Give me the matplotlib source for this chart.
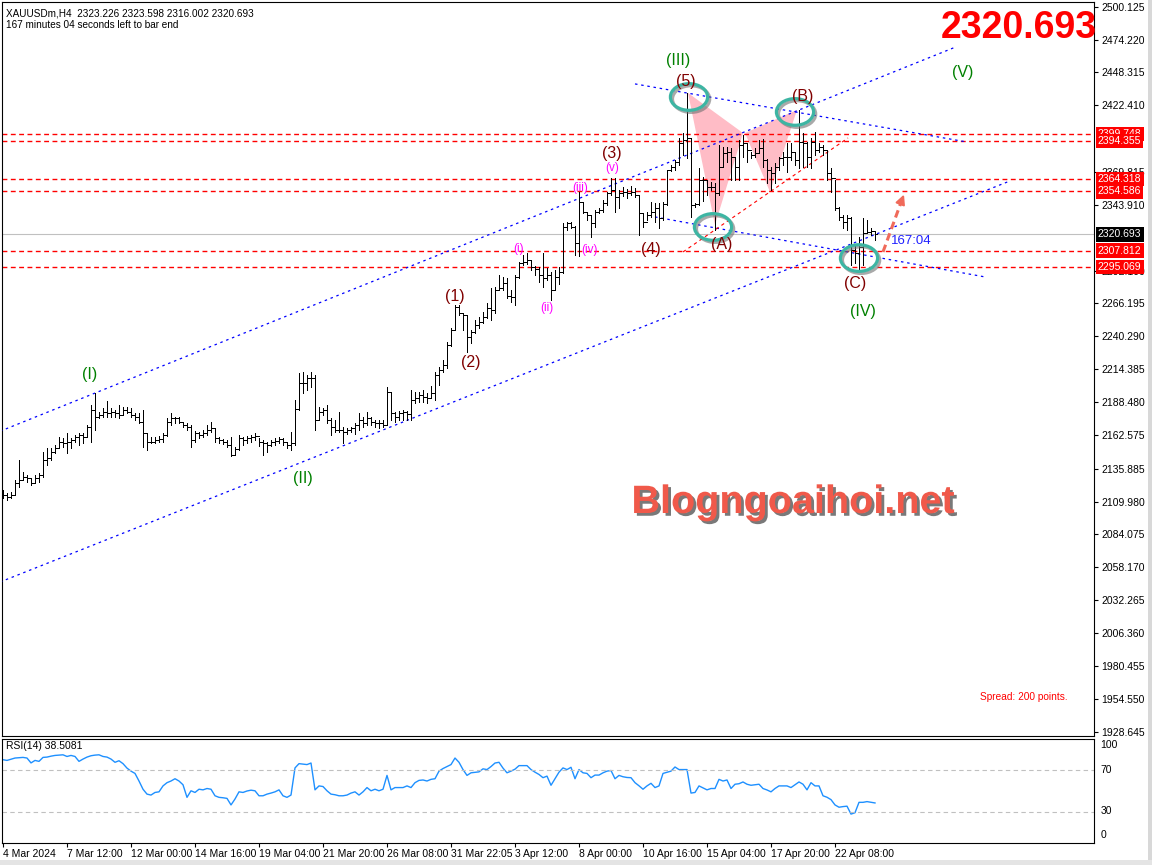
import matplotlib
matplotlib.use('Agg')
import numpy as np
import matplotlib.pyplot as plt
import matplotlib.patheffects as pe
import matplotlib.transforms as mtransforms
from matplotlib.collections import LineCollection
from matplotlib.patches import Ellipse, Polygon, Rectangle

plt.rcParams['font.family'] = ['Liberation Sans', 'DejaVu Sans']

# XAUUSDm H4 bars (open = previous close)
first_open = 2113.5
highs = [
    2119.0, 2116.4, 2117.7, 2126.9, 2142.7, 2133.5, 2130.8, 2128.2, 2130.8, 2132.2,
    2149.3, 2151.9, 2151.9, 2154.5, 2161.1, 2159.8, 2163.7, 2159.8, 2162.4, 2163.7,
    2163.7, 2170.3, 2186.1, 2195.3, 2180.8, 2183.4, 2189.5, 2183.4, 2182.1, 2186.1,
    2184.8, 2184.8, 2183.4, 2179.5, 2179.5, 2182.1, 2163.7, 2161.1, 2160.6, 2161.6,
    2164.2, 2175.6, 2179.5, 2176.9, 2176.9, 2173.0, 2171.6, 2170.3, 2165.8, 2165.1,
    2166.4, 2170.3, 2173.0, 2167.7, 2161.1, 2159.0, 2158.5, 2161.1, 2152.7, 2162.4,
    2161.1, 2161.6, 2162.4, 2163.7, 2159.8, 2158.5, 2157.2, 2158.5, 2159.8, 2160.6,
    2159.8, 2157.2, 2165.1, 2190.0, 2211.6, 2212.4, 2209.8, 2212.4, 2209.8, 2184.8,
    2183.5, 2186.1, 2175.6, 2174.3, 2180.8, 2169.0, 2167.7, 2169.0, 2171.6, 2179.5,
    2176.9, 2180.8, 2176.9, 2174.2, 2174.2, 2174.2, 2200.0, 2196.6, 2180.8, 2181.6,
    2182.1, 2181.6, 2197.9, 2196.6, 2196.6, 2197.9, 2195.3, 2201.1, 2212.4, 2216.3,
    2221.6, 2236.0, 2246.6, 2265.0, 2265.0, 2259.0, 2257.1, 2245.2, 2253.1, 2255.8,
    2259.7, 2266.3, 2278.1, 2279.4, 2288.6, 2287.3, 2286.0, 2276.8, 2288.6, 2299.2,
    2304.4, 2305.7, 2300.5, 2295.7, 2295.2, 2305.7, 2293.8, 2291.2, 2292.5, 2295.1,
    2329.3, 2330.6, 2330.6, 2327.0, 2354.3, 2346.4, 2338.5, 2335.9, 2339.8, 2341.1,
    2347.7, 2354.3, 2364.8, 2364.8, 2355.6, 2358.3, 2356.1, 2358.8, 2356.9, 2351.7,
    2337.2, 2338.5, 2346.4, 2345.1, 2345.1, 2346.4, 2371.4, 2375.3, 2379.3, 2396.4,
    2400.8, 2431.9, 2396.4, 2345.6, 2372.7, 2366.1, 2363.5, 2362.2, 2360.9, 2391.1,
    2389.8, 2389.8, 2388.5, 2382.0, 2395.1, 2399.0, 2392.4, 2385.8, 2388.5, 2395.1,
    2395.6, 2380.0, 2374.0, 2376.6, 2381.9, 2385.8, 2392.4, 2392.4, 2384.5, 2418.7,
    2400.3, 2393.7, 2396.4, 2401.6, 2392.4, 2391.1, 2387.2, 2372.7, 2363.5, 2342.4,
    2335.9, 2335.9, 2334.6, 2312.2, 2318.8, 2333.2, 2331.9, 2325.4, 2323.598]
lows = [
    2112.4, 2111.1, 2112.4, 2115.1, 2121.6, 2126.9, 2125.6, 2123.0, 2124.3, 2125.6,
    2129.5, 2138.7, 2142.7, 2147.9, 2151.9, 2153.2, 2147.9, 2151.9, 2157.1, 2154.5,
    2155.8, 2161.1, 2157.1, 2166.4, 2175.6, 2176.9, 2176.9, 2176.9, 2176.9, 2175.6,
    2178.2, 2179.5, 2176.9, 2174.3, 2171.6, 2153.2, 2150.6, 2155.8, 2156.4, 2157.1,
    2157.1, 2161.6, 2170.3, 2171.6, 2171.6, 2169.0, 2166.4, 2152.7, 2157.2, 2159.8,
    2160.6, 2162.4, 2165.1, 2157.2, 2155.9, 2155.3, 2152.7, 2145.9, 2146.6, 2150.8,
    2154.5, 2155.9, 2157.2, 2158.5, 2153.7, 2146.6, 2149.3, 2153.7, 2154.5, 2155.9,
    2154.5, 2151.9, 2150.6, 2154.5, 2182.1, 2195.3, 2197.9, 2200.6, 2166.4, 2174.3,
    2178.2, 2171.6, 2162.4, 2165.1, 2165.1, 2156.4, 2163.2, 2165.1, 2163.2, 2166.4,
    2168.4, 2170.3, 2170.3, 2169.0, 2167.7, 2168.4, 2170.0, 2174.2, 2172.9, 2174.2,
    2174.2, 2174.2, 2174.2, 2187.4, 2188.7, 2188.7, 2187.4, 2192.6, 2190.0, 2201.8,
    2212.4, 2215.0, 2233.0, 2245.2, 2257.1, 2245.2, 2228.2, 2234.7, 2242.6, 2246.6,
    2250.5, 2254.4, 2253.1, 2258.4, 2276.8, 2276.8, 2270.2, 2267.6, 2265.0, 2286.0,
    2296.5, 2297.3, 2292.6, 2288.6, 2283.4, 2279.4, 2284.6, 2268.8, 2276.7, 2281.4,
    2289.9, 2324.1, 2325.4, 2304.3, 2303.5, 2337.2, 2331.9, 2318.8, 2326.7, 2337.2,
    2338.5, 2343.8, 2351.7, 2338.5, 2341.1, 2350.9, 2349.0, 2351.7, 2349.8, 2320.1,
    2326.7, 2331.9, 2334.0, 2330.6, 2325.4, 2331.9, 2343.8, 2370.9, 2371.4, 2375.3,
    2383.2, 2380.6, 2334.6, 2341.9, 2344.0, 2347.2, 2351.7, 2355.6, 2324.1, 2351.7,
    2374.0, 2377.9, 2363.5, 2363.5, 2363.5, 2381.9, 2377.9, 2380.6, 2381.9, 2384.5,
    2374.0, 2360.9, 2355.6, 2360.9, 2371.4, 2375.3, 2370.1, 2379.3, 2375.3, 2372.7,
    2374.0, 2374.0, 2372.7, 2383.2, 2385.8, 2383.2, 2363.5, 2354.3, 2339.8, 2331.9,
    2325.4, 2324.0, 2296.4, 2297.7, 2292.5, 2296.4, 2321.4, 2320.1, 2316.002]
closes = [
    2115.1, 2113.8, 2115.1, 2124.3, 2126.9, 2129.5, 2128.2, 2124.8, 2128.2, 2130.8,
    2142.7, 2144.0, 2149.3, 2151.9, 2157.1, 2155.8, 2157.1, 2158.5, 2161.1, 2162.4,
    2161.1, 2169.0, 2182.1, 2176.9, 2178.2, 2180.8, 2179.5, 2180.8, 2179.5, 2178.2,
    2182.1, 2180.8, 2178.2, 2176.9, 2172.9, 2163.7, 2157.1, 2157.1, 2158.5, 2159.0,
    2162.4, 2172.9, 2175.6, 2175.6, 2173.0, 2170.3, 2169.0, 2158.5, 2164.3, 2162.4,
    2163.7, 2166.4, 2167.7, 2159.8, 2158.5, 2157.2, 2154.5, 2146.6, 2151.1, 2159.8,
    2158.5, 2159.8, 2160.6, 2161.6, 2157.2, 2155.9, 2154.5, 2157.2, 2158.0, 2159.0,
    2157.2, 2154.5, 2155.9, 2182.7, 2203.2, 2203.2, 2207.1, 2207.1, 2174.3, 2180.8,
    2182.1, 2174.3, 2169.0, 2166.4, 2166.4, 2165.1, 2166.4, 2167.7, 2170.3, 2174.3,
    2171.6, 2175.5, 2172.9, 2171.6, 2171.6, 2170.3, 2196.6, 2179.5, 2176.9, 2179.5,
    2180.8, 2179.0, 2190.0, 2191.3, 2194.0, 2192.6, 2191.3, 2195.3, 2209.7, 2213.7,
    2217.6, 2233.4, 2245.2, 2263.7, 2258.9, 2257.1, 2240.0, 2243.9, 2249.2, 2251.8,
    2255.8, 2262.3, 2261.0, 2276.8, 2278.1, 2282.1, 2272.1, 2271.5, 2287.3, 2297.8,
    2299.2, 2300.5, 2295.2, 2293.1, 2288.6, 2286.0, 2288.5, 2276.7, 2287.2, 2291.2,
    2326.7, 2329.3, 2326.7, 2313.5, 2346.4, 2338.5, 2335.9, 2329.3, 2338.5, 2339.8,
    2345.1, 2353.0, 2355.6, 2350.4, 2353.0, 2354.3, 2353.0, 2354.3, 2351.7, 2337.2,
    2330.6, 2335.9, 2338.5, 2341.1, 2333.3, 2344.6, 2371.4, 2374.0, 2378.0, 2392.4,
    2395.1, 2396.4, 2343.8, 2344.6, 2363.5, 2363.5, 2358.3, 2358.3, 2353.0, 2374.0,
    2384.5, 2385.8, 2381.9, 2374.0, 2391.1, 2392.4, 2387.2, 2383.2, 2384.5, 2388.5,
    2379.3, 2371.4, 2368.8, 2374.0, 2380.6, 2381.9, 2381.9, 2385.8, 2379.3, 2393.7,
    2392.4, 2381.9, 2393.7, 2387.2, 2389.8, 2387.2, 2368.8, 2364.8, 2341.1, 2334.6,
    2330.6, 2333.2, 2308.3, 2305.6, 2310.9, 2321.4, 2322.7, 2323.226, 2320.693]

rsi = [
    80.1, 79.4, 80.5, 81.7, 82.0, 82.3, 81.7, 77.0, 79.4, 78.5,
    82.3, 82.6, 83.5, 84.2, 84.5, 84.8, 83.2, 84.2, 83.2, 78.5,
    80.7, 82.6, 83.9, 84.5, 84.8, 83.2, 82.6, 80.7, 77.6, 79.1,
    76.3, 72.0, 69.1, 66.9, 59.6, 51.7, 47.0, 46.1, 48.6, 49.2,
    54.9, 58.0, 59.6, 61.8, 59.6, 56.0, 43.9, 50.2, 48.6, 51.7,
    51.1, 52.4, 51.7, 45.4, 43.9, 43.5, 42.9, 36.6, 42.3, 49.2,
    48.6, 50.0, 50.8, 50.2, 45.4, 45.4, 47.0, 48.0, 49.2, 51.1,
    45.4, 43.9, 46.1, 72.2, 76.3, 75.8, 75.4, 76.9, 51.1, 54.9,
    54.3, 50.2, 47.0, 46.4, 45.4, 45.4, 46.1, 48.0, 49.2, 46.1,
    49.2, 53.3, 50.2, 51.7, 50.2, 51.7, 65.0, 51.1, 53.3, 53.3,
    53.3, 54.9, 53.3, 58.0, 60.2, 60.6, 59.6, 61.2, 61.8, 69.1,
    71.6, 73.5, 75.4, 81.7, 77.6, 70.6, 65.0, 67.5, 68.0, 68.4,
    71.3, 70.6, 73.5, 76.9, 77.6, 72.0, 67.5, 69.1, 71.0, 74.4,
    74.4, 74.4, 70.6, 68.1, 65.9, 62.8, 64.3, 55.5, 61.8, 68.1,
    72.2, 70.6, 72.8, 61.8, 70.6, 67.5, 66.9, 62.8, 65.3, 65.3,
    67.5, 69.1, 69.7, 61.8, 65.0, 63.7, 63.0, 62.8, 58.0, 55.0,
    51.7, 54.9, 57.4, 53.3, 54.9, 66.9, 68.0, 69.1, 73.1, 70.6,
    70.6, 70.6, 48.0, 48.6, 54.9, 53.0, 51.1, 52.4, 52.4, 61.2,
    59.6, 60.6, 52.4, 56.5, 57.0, 58.7, 56.5, 55.5, 56.0, 56.5,
    52.4, 51.0, 49.2, 52.4, 54.9, 54.9, 54.9, 53.3, 56.0, 58.7,
    56.5, 51.1, 58.0, 54.9, 54.9, 45.4, 44.0, 41.7, 36.6, 34.4,
    35.0, 35.4, 27.8, 29.1, 39.1, 39.1, 39.8, 39.1, 38.5081]

date_pos = [0, 16, 32, 48, 64, 80, 96, 112, 128, 144, 160, 176, 192, 208]
date_labels = ['4 Mar 2024', '7 Mar 12:00', '12 Mar 00:00', '14 Mar 16:00',
               '19 Mar 04:00', '21 Mar 20:00', '26 Mar 08:00', '31 Mar 22:05',
               '3 Apr 12:00', '8 Apr 00:00', '10 Apr 16:00', '15 Apr 04:00',
               '17 Apr 20:00', '22 Apr 08:00']
price_ticks = [2500.125, 2474.220, 2448.315, 2422.410, 2369.815,
               2343.910, 2292.100, 2266.195, 2240.290, 2214.385,
               2188.480, 2162.575, 2135.885, 2109.980, 2084.075, 2058.170,
               2032.265, 2006.360, 1980.455, 1954.550, 1928.645]
levels = [2399.748, 2394.355, 2364.318, 2354.586, 2307.812, 2295.069]
bid = 2320.693

# trend lines (bar index, price)
blue_lines = [((-0.75, 2165.4), (238.0, 2468.2)),
              ((-0.75, 2046.5), (251.75, 2362.8)),
              ((158.0, 2439.3), (241.0, 2393.5)),
              ((163.0, 2334.4), (245.5, 2287.1))]
red_line = ((170.0, 2306.8), (211.25, 2396.7))
ellipses = [(171.5, 2429.0), (198.0, 2417.2), (177.5, 2326.5), (214.0, 2302.0)]
triangles = [[(171.25, 2432.2), (185.0, 2400.6), (178.0, 2328.1)],
             [(185.5, 2400.6), (198.5, 2418.8), (191.75, 2354.1)]]
arrow_from = (220.0, 2306.8)
arrow_to = (225.5, 2354.1)

green_labels = [('(I)', 21.75, 2209.8), ('(II)', 75.0, 2128.5), ('(III)', 168.75, 2457.4),
                ('(IV)', 215.0, 2259.5), ('(V)', 240.0, 2448.7)]
maroon_labels = [('(1)', 113.0, 2271.3), ('(2)', 117.0, 2220.0), ('(3)', 152.25, 2384.1),
                 ('(4)', 162.0, 2308.4), ('(5)', 170.75, 2441.6), ('(A)', 179.75, 2312.3),
                 ('(B)', 200.0, 2429.0), ('(C)', 213.0, 2282.3)]
pink_labels = [('(i)', 129.0, 2309.1), ('(ii)', 136.0, 2262.6), ('(iii)', 144.25, 2357.2),
               ('(iv)', 146.75, 2308.4), ('(v)', 152.25, 2373.0)]

W, H = 1152, 865
fig = plt.figure(figsize=(W / 100, H / 100), dpi=100)
fig.patch.set_facecolor('white')
ax = fig.add_axes([2 / W, (H - 736) / H, 1092 / W, 734 / H])
rax = fig.add_axes([2 / W, 22 / H, 1092 / W, 104 / H])

n = len(closes)
idx = np.arange(n)
opens = [first_open] + closes[:-1]

segs = []
for i in range(n):
    segs.append([(i, lows[i]), (i, highs[i])])
    segs.append([(i - 0.4, opens[i]), (i, opens[i])])
    segs.append([(i, closes[i]), (i + 0.4, closes[i])])
ax.add_collection(LineCollection(segs, colors='black', linewidths=0.72,
                                 antialiased=False, zorder=4))

ax.set_xlim(-0.25, 272.75)
ax.set_ylim(1925.1, 2503.9)

# horizontal levels
ax.axhline(bid, color='#c0c0c0', lw=0.8, zorder=2)
for lv in levels:
    ax.axhline(lv, color='#ff0000', lw=1.0, ls=(0, (3.5, 2.5)), zorder=2)

for (x0, y0), (x1, y1) in blue_lines:
    ax.plot([x0, x1], [y0, y1], color='#0000ff', lw=0.9, ls=(0, (2, 3)), zorder=3)
ax.plot([red_line[0][0], red_line[1][0]], [red_line[0][1], red_line[1][1]],
        color='red', lw=0.8, ls=(0, (3, 3)), zorder=3)

for tri in triangles:
    ax.add_patch(Polygon(tri, closed=True, fc='#ffbcc6', ec='none', zorder=1))

for cx, cy in ellipses:
    ax.add_patch(Ellipse((cx, cy), 9.3, 21.0, fill=False, ec='#3db5a3', lw=2.3, zorder=6,
                         path_effects=[pe.SimpleLineShadow(offset=(1.5, -1.5),
                                                           shadow_color='#707070', alpha=0.6),
                                       pe.Normal()]))

# dashed arrow
ax.plot([arrow_from[0], arrow_to[0] - 0.8], [arrow_from[1], arrow_to[1] - 6.5],
        color='#f06a5a', lw=2.2, ls=(0, (2.5, 1.5)), zorder=6)
ax.annotate('', xy=arrow_to, xytext=(arrow_to[0] - 1.5, arrow_to[1] - 12),
            arrowprops=dict(arrowstyle='-|>', color='#f06a5a', lw=1.5, mutation_scale=14),
            zorder=6)

for s, x, y in green_labels:
    ax.text(x, y, s, color='#008000', fontsize=11.5, ha='center', va='center', zorder=7)
for s, x, y in maroon_labels:
    ax.text(x, y, s, color='#800000', fontsize=11.5, ha='center', va='center', zorder=7)
for s, x, y in pink_labels:
    ax.text(x, y, s, color='#ff00ff', fontsize=8.5, ha='center', va='center', zorder=7)

ax.text(222, 2315.4, '167:04', color='#2020ff', fontsize=9.5, ha='left', va='center', zorder=7)
ax.text(0.9762, 0.053, 'Spread: 200 points.', color='red', fontsize=7.3,
        transform=ax.transAxes, ha='right', va='center')

# price axis
ax.set_xticks([])
ax.yaxis.tick_right()
ax.set_yticks(price_ticks)
ax.set_yticklabels(['%.3f' % v for v in price_ticks])
ax.tick_params(axis='y', direction='out', length=3, width=0.8, pad=2, labelsize=7.5)
for sp in ax.spines.values():
    sp.set_linewidth(0.8)

trans = mtransforms.blended_transform_factory(ax.transAxes, ax.transData)
for lv in levels:
    ax.text(1.0035, lv, '%.3f' % lv, transform=trans, ha='left', va='center',
            color='white', fontsize=7.5, clip_on=False, zorder=10,
            bbox=dict(boxstyle='square,pad=0.22', fc='#ff0000', ec='none'))
ax.text(1.0035, bid, '%.3f' % bid, transform=trans, ha='left', va='center',
        color='white', fontsize=7.5, clip_on=False, zorder=10,
        bbox=dict(boxstyle='square,pad=0.22', fc='black', ec='none'))

# RSI panel
rax.plot(idx, rsi, color='#1e90ff', lw=1.0)
rax.axhline(70, color='#c0c0c0', lw=0.8, ls=(0, (4, 3)))
rax.axhline(30, color='#c0c0c0', lw=0.8, ls=(0, (4, 3)))
rax.set_xlim(-0.25, 272.75)
rax.set_ylim(0, 100)
rax.set_yticks([])
rax.set_xticks(date_pos)
rax.set_xticklabels(date_labels)
for lab in rax.get_xticklabels():
    lab.set_ha('left')
rax.tick_params(axis='x', direction='out', length=3, width=0.8, pad=1.5, labelsize=7.5)
for sp in rax.spines.values():
    sp.set_linewidth(0.8)
for val, ypos in [('100', 0.942), ('70', 0.702), ('30', 0.308), ('0', 0.077)]:
    rax.text(1.006, ypos, val, transform=rax.transAxes, fontsize=7.5,
             ha='left', va='center', clip_on=False)
rax.text(0.004, 0.93, 'RSI(14) 38.5081', transform=rax.transAxes, fontsize=7.5,
         ha='left', va='center')

# header and overlays
fig.text(6 / W, 1 - 13 / H, 'XAUUSDm,H4  2323.226 2323.598 2316.002 2320.693',
         fontsize=7.2, ha='left', va='center')
fig.text(6 / W, 1 - 25 / H, '167 minutes 04 seconds left to bar end',
         fontsize=7.2, ha='left', va='center')
fig.text(1097 / W, 1 - 28 / H, '2320.693', fontsize=27, fontweight='bold',
         color='#ff0000', ha='right', va='center')
fig.text(793 / W, 1 - 502 / H, 'Blogngoaihoi.net', fontsize=28.5, fontweight='bold',
         color='#f0594a', ha='center', va='center',
         path_effects=[pe.withSimplePatchShadow(offset=(2, -2), shadow_rgbFace='#404040',
                                               alpha=0.7)])

fig.patches.append(Rectangle((1148 / W, 0), 4 / W, 1, transform=fig.transFigure,
                             fc='#d8d8d8', ec='none'))
fig.patches.append(Rectangle((0, 0), 1, 5 / H, transform=fig.transFigure,
                             fc='#e4e4e4', ec='none'))

fig.savefig('out.png', dpi=100)
